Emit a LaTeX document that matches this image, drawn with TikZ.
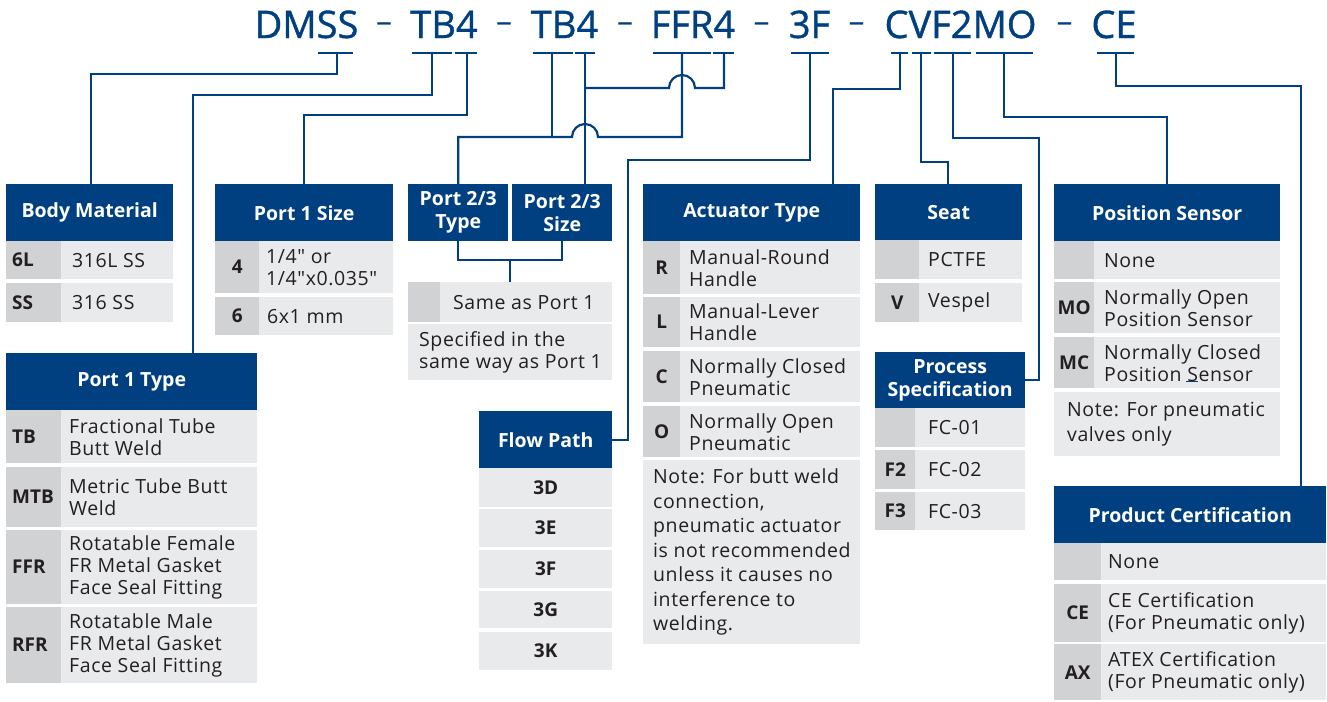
\documentclass[tikz,border=0pt]{standalone}
\usepackage{fontspec}
\setmainfont{Open Sans}[Ligatures=TeXOff]
\newfontfamily\pnfont{Open Sans}[Ligatures=TeXOff,FakeBold=1]
\newfontfamily\bodyfont{Open Sans}[Ligatures=TeXOff,LetterSpace=3]
\definecolor{hdrblue}{RGB}{0,64,128}
\definecolor{codeg}{RGB}{209,210,212}
\definecolor{txtg}{RGB}{233,234,236}
\definecolor{textc}{RGB}{35,31,32}
% centred cell: style, name, x1, y1, x2, y2, text
\newcommand\mkc[7]{%
  \pgfmathsetmacro\mkW{#5-#3}\pgfmathsetmacro\mkH{#6-#4}%
  \node[#1, anchor=north west, inner sep=0pt, minimum width=\mkW pt, minimum height=\mkH pt] (#2) at (#3,#4) {#7};}
% left-aligned cell: style, name, x1, y1, x2, y2, pad, text
\newcommand\mkl[8]{%
  \pgfmathsetmacro\mkW{#5-#3}\pgfmathsetmacro\mkH{#6-#4}%
  \node[#1, anchor=north west, inner sep=0pt, minimum width=\mkW pt, minimum height=\mkH pt] (#2) at (#3,#4) {};
  \node[#1, fill=none, anchor=west, inner sep=0pt, xshift=#7pt] (#2-t) at (#2.west) {#8};}
\begin{document}
\begin{tikzpicture}[x=1pt,y=-1pt,
  hdr/.style={fill=hdrblue, text=white, font=\fontsize{19.5}{23}\selectfont\bfseries, align=center},
  code/.style={fill=codeg, text=textc, font=\fontsize{19}{22}\selectfont\bfseries, align=center},
  codel/.style={fill=codeg, text=textc, font=\fontsize{19}{22}\selectfont\bfseries, align=left},
  txt/.style={fill=txtg, text=textc, font=\bodyfont\fontsize{19.5}{22}\selectfont, align=left},
  note/.style={fill=txtg, text=textc, font=\bodyfont\fontsize{19.5}{24.5}\selectfont, align=left},
  fp/.style={fill=txtg, text=textc, font=\fontsize{19}{22}\selectfont\bfseries, align=center},
  pn/.style={text=hdrblue, font=\pnfont\fontsize{38}{40}\selectfont, anchor=base, inner sep=0pt},
  pd/.style={text=hdrblue, font=\fontsize{32}{34}\selectfont, anchor=base, inner sep=0pt},
  uline/.style={draw=hdrblue, line width=2.4pt},
  conn/.style={draw=hdrblue, line width=2.2pt}]
\useasboundingbox (0,0) rectangle (1327,701);

% ---------- part number ----------
\node[pn] (cDMSS) at (306.5,38) {DMSS};
\node[pd] (d1) at (384,33) {–};
\node[pn] (cTB4a) at (444,38) {TB4};
\node[pd] (d2) at (504,33) {–};
\node[pn] (cTB4b) at (564.5,38) {TB4};
\node[pd] (d3) at (625,33) {–};
\node[pn] (cFFR4) at (693,38) {FFR4};
\node[pd] (d4) at (761.5,33) {–};
\node[pn] (c3F) at (809.5,38) {3F};
\node[pd] (d5) at (856.5,33) {–};
\node[pn] (cCVF) at (960.5,38) {CVF2MO};
\node[pd] (d6) at (1064.5,33) {–};
\node[pn] (cCE) at (1114,38) {CE};

% underlines
\draw[uline] (318,53) -- (353,53);
\draw[uline] (412,53) -- (452,53);
\draw[uline] (455,53) -- (477,53);
\draw[uline] (533,53) -- (573,53);
\draw[uline] (575,53) -- (595,53);
\draw[uline] (653,53) -- (711,53);
\draw[uline] (713,53) -- (734,53);
\draw[uline] (791,53) -- (829,53);
\draw[uline] (891,53) -- (908,53);
\draw[uline] (912,53) -- (931,53);
\draw[uline] (934,53) -- (971,53);
\draw[uline] (976,53) -- (1033,53);
\draw[uline] (1097,53) -- (1134,53);

% ---------- Body Material ----------
\mkc{hdr}{bmH}{6}{184}{173}{241}{Body Material}
\mkl{codel}{bm1c}{6}{241}{61}{279}{6}{6L}
\mkl{txt}{bm1t}{61}{241}{173}{279}{11}{316L SS}
\mkl{codel}{bm2c}{6}{283}{61}{322}{6}{SS}
\mkl{txt}{bm2t}{61}{283}{173}{322}{11}{316 SS}

% ---------- Port 1 Size ----------
\mkc{hdr}{p1sH}{215}{184}{393}{241}{Port 1 Size}
\mkc{code}{p1s1c}{215}{241}{259}{293}{4}
\mkl{txt}{p1s1t}{259}{241}{393}{293}{7}{1/4" or\\1/4"x0.035"}
\mkc{code}{p1s2c}{215}{297}{259}{335}{6}
\mkl{txt}{p1s2t}{259}{297}{393}{335}{8}{6x1 mm}

% ---------- Port 2/3 ----------
\mkc{hdr}{t23H}{408}{184}{508}{241}{Port 2/3\\Type}
\mkc{hdr}{s23H}{512}{184}{612}{241}{Port 2/3\\Size}
\mkc{code}{r23c}{408}{282}{440}{322}{}
\mkl{txt}{r23t}{440}{282}{612}{322}{13}{Same as Port 1}
\mkl{txt}{r23n}{408}{324}{612}{380}{11}{Specified in the\\same way as Port 1}

% ---------- Port 1 Type ----------
\mkc{hdr}{p1tH}{6}{353}{257}{410}{Port 1 Type}
\mkl{codel}{p1t1c}{6}{410}{61}{463}{6}{TB}
\mkl{txt}{p1t1t}{61}{410}{257}{463}{8}{Fractional Tube\\Butt Weld}
\mkl{codel}{p1t2c}{6}{467}{61}{527}{6}{MTB}
\mkl{txt}{p1t2t}{61}{467}{257}{527}{8}{Metric Tube Butt\\Weld}
\mkl{codel}{p1t3c}{6}{530}{61}{604}{6}{FFR}
\mkl{txt}{p1t3t}{61}{530}{257}{604}{8}{Rotatable Female\\FR Metal Gasket\\Face Seal Fitting}
\mkl{codel}{p1t4c}{6}{607}{61}{683}{6}{RFR}
\mkl{txt}{p1t4t}{61}{607}{257}{683}{8}{Rotatable Male\\FR Metal Gasket\\Face Seal Fitting}

% ---------- Flow Path ----------
\mkc{hdr}{fpH}{479}{411}{612}{468}{Flow Path}
\mkc{fp}{fp1}{479}{468}{612}{507}{3D}
\mkc{fp}{fp2}{479}{509}{612}{547}{3E}
\mkc{fp}{fp3}{479}{550}{612}{588}{3F}
\mkc{fp}{fp4}{479}{591}{612}{628}{3G}
\mkc{fp}{fp5}{479}{632}{612}{670}{3K}

% ---------- Actuator Type ----------
\mkc{hdr}{atH}{643}{184}{860}{241}{Actuator Type}
\mkc{code}{at1c}{643}{241}{680}{294}{R}
\mkl{txt}{at1t}{680}{241}{860}{294}{9}{Manual-Round\\Handle}
\mkc{code}{at2c}{643}{297}{680}{347}{L}
\mkl{txt}{at2t}{680}{297}{860}{347}{9}{Manual-Lever\\Handle}
\mkc{code}{at3c}{643}{351}{680}{402}{C}
\mkl{txt}{at3t}{680}{351}{860}{402}{9}{Normally Closed\\Pneumatic}
\mkc{code}{at4c}{643}{406}{680}{457}{O}
\mkl{txt}{at4t}{680}{406}{860}{457}{9}{Normally Open\\Pneumatic}
\mkl{note}{atN}{643}{460}{860}{644}{10}{Note: For butt weld\\connection,\\pneumatic actuator\\is not recommended\\unless it causes no\\interference to\\welding.}

% ---------- Seat ----------
\mkc{hdr}{seatH}{875}{184}{1022}{240}{Seat}
\mkc{code}{se1c}{875}{240}{919}{279}{}
\mkl{txt}{se1t}{919}{240}{1022}{279}{9}{PCTFE}
\mkc{code}{se2c}{875}{283}{919}{322}{V}
\mkl{txt}{se2t}{919}{283}{1022}{322}{9}{Vespel}

% ---------- Process Specification ----------
\mkc{hdr}{psH}{875}{352}{1025}{408}{Process\\Specification}
\mkc{code}{ps1c}{875}{408}{915}{447}{}
\mkl{txt}{ps1t}{915}{408}{1025}{447}{13}{FC-01}
\mkc{code}{ps2c}{875}{450}{915}{489}{F2}
\mkl{txt}{ps2t}{915}{450}{1025}{489}{13}{FC-02}
\mkc{code}{ps3c}{875}{492}{915}{530}{F3}
\mkl{txt}{ps3t}{915}{492}{1025}{530}{13}{FC-03}

% ---------- Position Sensor ----------
\mkc{hdr}{posH}{1054}{184}{1280}{241}{Position Sensor}
\mkc{code}{po1c}{1054}{241}{1094}{279}{}
\mkl{txt}{po1t}{1094}{241}{1280}{279}{10}{None}
\mkc{code}{po2c}{1054}{282}{1094}{333}{MO}
\mkl{txt}{po2t}{1094}{282}{1280}{333}{10}{Normally Open\\Position Sensor}
\mkc{code}{po3c}{1054}{337}{1094}{388}{MC}
\mkl{txt}{po3t}{1094}{337}{1280}{388}{10}{Normally Closed\\Position Sensor}
\mkl{note}{poN}{1054}{392}{1280}{456}{13}{Note: For pneumatic\\valves only}
\draw[hdrblue, line width=1pt] (1186,381) -- (1198,381);

% ---------- Product Certification ----------
\mkc{hdr}{pcH}{1054}{486}{1326}{543}{Product Certification}
\mkc{code}{pc1c}{1054}{543}{1101}{580}{}
\mkl{txt}{pc1t}{1101}{543}{1326}{580}{7}{None}
\mkc{code}{pc2c}{1054}{584}{1101}{642}{CE}
\mkl{txt}{pc2t}{1101}{584}{1326}{642}{7}{CE Certification\\(For Pneumatic only)}
\mkc{code}{pc3c}{1054}{644}{1101}{700}{AX}
\mkl{txt}{pc3t}{1101}{644}{1326}{700}{7}{ATEX Certification\\(For Pneumatic only)}

% ---------- connectors ----------
\coordinate (uDMSS) at (337,53);  \coordinate (jDMSS) at (91,74);
\coordinate (uTBa) at (432,53);   \coordinate (jTBa) at (193,95);
\coordinate (u4a) at (467,53);    \coordinate (j4a) at (304,115);
\coordinate (uTBb) at (552,53);   \coordinate (jTBb) at (552,137);
\coordinate (u4b) at (585,53);    \coordinate (j4b) at (585,88);
\coordinate (hop1) at (572,137);  \coordinate (jFFR) at (682,137);
\coordinate (uFFR) at (682,53);
\coordinate (hop2) at (669,88);   \coordinate (jFFR4) at (724,88);
\coordinate (uFFR4) at (724,53);
\coordinate (u3F) at (810,53);    \coordinate (j3F) at (628,160);
\coordinate (uC) at (900,53);     \coordinate (jC) at (833,89);
\coordinate (uV) at (921,53);     \coordinate (jV) at (948,162);
\coordinate (uF2) at (953,53);    \coordinate (jF2) at (1039,138);
\coordinate (uMO) at (1004,53);   \coordinate (jMO) at (1167,117);
\coordinate (uCE) at (1116,53);   \coordinate (jCE) at (1301,86);
\coordinate (brk) at (510,260);

\draw[conn] (uDMSS) |- (jDMSS) -- (jDMSS |- bmH.north);
\draw[conn] (uTBa) |- (jTBa) -- (jTBa |- p1tH.north);
\draw[conn] (u4a) |- (j4a) -- (j4a |- p1sH.north);
\draw[conn] (uTBb) -- (jTBb);
\draw[conn] (t23H.north) |- (hop1) arc[start angle=180, end angle=360, radius=13] -- (jFFR) -- (uFFR);
\draw[conn] (u4b) -- (u4b |- s23H.north);
\draw[conn] (j4b) -- (hop2) arc[start angle=180, end angle=360, radius=13] -- (jFFR4) -- (uFFR4);
\draw[conn] (t23H.south) |- (brk) -| (s23H.south);
\draw[conn] (brk) -- (brk |- r23t.north);
\draw[conn] (u3F) |- (j3F) -- (j3F |- fpH.east) -- (fpH.east);
\draw[conn] (uC) |- (jC) -- (jC |- atH.north);
\draw[conn] (uV) |- (jV) -- (jV |- seatH.north);
\draw[conn] (uF2) |- (jF2) |- (psH.east);
\draw[conn] (uMO) |- (jMO) -- (jMO |- posH.north);
\draw[conn] (uCE) |- (jCE) -- (jCE |- pcH.north);
\end{tikzpicture}
\end{document}
